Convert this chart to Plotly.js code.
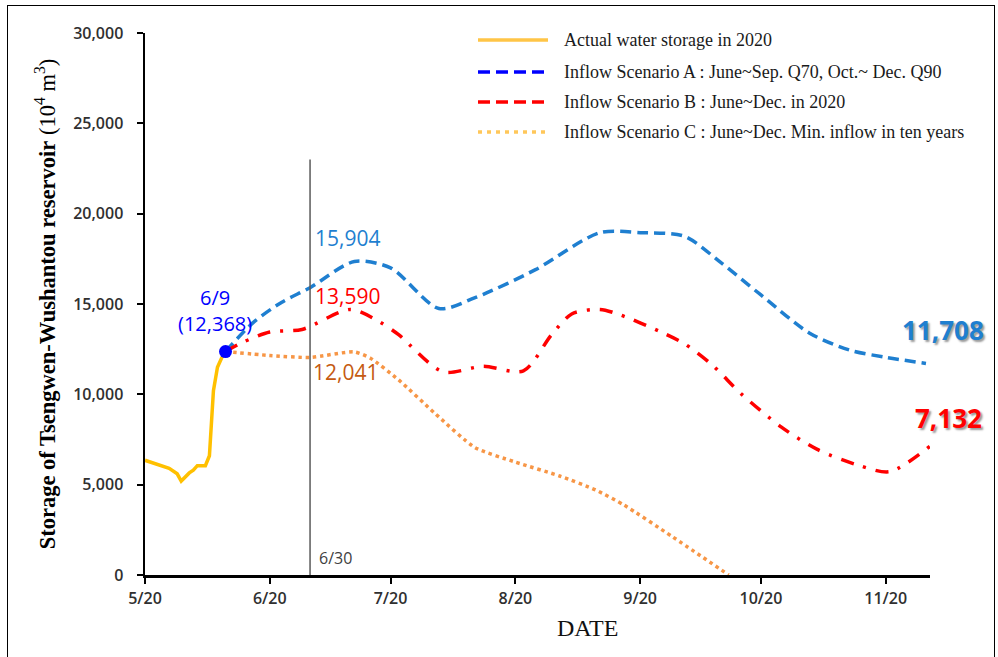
<!DOCTYPE html>
<html><head><meta charset="utf-8">
<script src="https://cdn.plot.ly/plotly-3.0.1.min.js"></script>
<style>
html,body{margin:0;padding:0;background:#fff;overflow:hidden}
#chart{width:998px;height:657px}
#frame{position:absolute;left:7px;top:5px;width:988px;height:720px;border:1.5px solid #000;pointer-events:none;box-sizing:border-box}
</style></head><body>
<div id="chart"></div><div id="frame"></div>
<script>
// Actual water storage in 2020 (10^4 m3)
const actualDates = ['2020-05-20','2020-05-23','2020-05-26','2020-05-28','2020-05-29','2020-05-31','2020-06-01','2020-06-02','2020-06-04','2020-06-05','2020-06-06','2020-06-07','2020-06-08','2020-06-09'];
const actualValues = [6350,6100,5900,5600,5200,5650,5800,6050,6050,6600,10200,11500,12000,12368];

// Scenario A
const scenADates = ['2020-06-09','2020-06-16','2020-06-23','2020-06-30','2020-07-11','2020-07-20','2020-08-01','2020-08-10','2020-08-25','2020-09-10','2020-09-20','2020-10-01','2020-10-10','2020-10-20','2020-11-01','2020-11-11','2020-11-20','2020-11-30'];
const scenAValues = [12368,14000,15100,15904,17350,17000,14750,15350,16900,18950,18950,18750,17300,15500,13400,12450,12050,11708];

// Scenario B
const scenBDates = ['2020-06-09','2020-06-13','2020-06-20','2020-06-28','2020-07-10','2020-07-17','2020-07-22','2020-08-02','2020-08-12','2020-08-22','2020-08-29','2020-09-03','2020-09-10','2020-09-15','2020-09-25','2020-10-01','2020-10-08','2020-10-15','2020-10-25','2020-11-03','2020-11-13','2020-11-21','2020-12-01'];
const scenBValues = [12368,12850,13450,13590,14700,14050,13300,11250,11550,11300,13300,14450,14700,14400,13470,12800,11600,10050,8200,6950,6090,5720,7132];

// Scenario C
const scenCDates = ['2020-06-09','2020-06-20','2020-06-30','2020-07-11','2020-07-15','2020-07-22','2020-07-31','2020-08-10','2020-08-20','2020-08-31','2020-09-09','2020-09-16','2020-09-28','2020-10-12'];
const scenCValues = [12368,12150,12041,12350,12000,10800,8950,7050,6250,5480,4700,3870,2120,0];

// Key point and reference date
const keyDate = ['2020-06-09'];
const keyValue = [12368];
const refDate = '2020-06-30';
const refTop = 23000;

const seriesNames = ['Actual water storage in 2020','Inflow Scenario A : June~Sep. Q70, Oct.~ Dec. Q90','Inflow Scenario B : June~Dec. in 2020','Inflow Scenario C : June~Dec. Min. inflow in ten years'];
const yTickVals = [0,5000,10000,15000,20000,25000,30000];

const blueC = '#1f7fd0';
const tickFont = {family:'Open Sans, sans-serif', size:16, color:'#303030', weight:600};

const traces = [
  {x:actualDates, y:actualValues, name:seriesNames[0], mode:'lines', line:{color:'#ffc000', width:3.5}, showlegend:false},
  {x:scenADates, y:scenAValues, name:seriesNames[1], mode:'lines', line:{color:blueC, width:3.5, dash:'11px,6px', shape:'spline', smoothing:0.8}, showlegend:false},
  {x:scenBDates, y:scenBValues, name:seriesNames[2], mode:'lines', line:{color:'#ff0000', width:3.5, dash:'13px,10px,3px,10px', shape:'spline', smoothing:0.8}, showlegend:false},
  {x:scenCDates, y:scenCValues, name:seriesNames[3], mode:'lines', line:{color:'#f79646', width:3.5, dash:'3.5px,3.8px', shape:'spline', smoothing:0.6}, showlegend:false},
  {x:keyDate, y:keyValue, name:'6/9', mode:'markers', marker:{color:'#0000ff', size:13}, showlegend:false}
];

function px2x(px){return (px-145)/785;}
function px2y(py){return (575-py)/542;}

const legX0 = px2x(478), legX1 = px2x(548);
const legRows = [40,72,102,132];
const legStyles = [
  {color:'#ffc547', width:3.5, dash:'solid'},
  {color:'#0000ff', width:3.5, dash:'12px,6px'},
  {color:'#ff0000', width:3.5, dash:'12px,6px'},
  {color:'#ffc75a', width:3.5, dash:'4px,5px'}
];

const shapes = [
  {type:'line', xref:'x', yref:'y', x0:refDate, x1:refDate, y0:0, y1:refTop, line:{color:'#5a5a5a', width:1.5}}
];
legRows.forEach((r,i)=>{
  shapes.push({type:'line', xref:'paper', yref:'paper', x0:legX0, x1:legX1, y0:px2y(r), y1:px2y(r), line:legStyles[i]});
});

const labFont = (c,s)=>({family:'Open Sans, sans-serif', size:s||21, color:c});
const ann = (px,py,text,font,xa)=>({xref:'paper', yref:'paper', x:px2x(px), y:px2y(py), xanchor:xa||'center', yanchor:'middle', showarrow:false, text:text, font:font});
const annotations = [];
legRows.forEach((r,i)=>{
  annotations.push(ann(562, r, seriesNames[i], {family:'Liberation Serif, Times New Roman, serif', size:18, color:'#1a1a1a'}, 'left'));
});
annotations.push(
  ann(215, 311, '6/9<br>(12,368)', labFont('#0000ff', 20)),
  ann(347, 238, '15,904', labFont(blueC)),
  ann(347, 296, '13,590', labFont('#ff0000')),
  ann(345, 372, '12,041', labFont('#c55a11')),
  ann(335, 558, '6/30', {family:'Open Sans, sans-serif', size:16, color:'#404040'}),
  ann(943, 330, '11,708', {family:'Open Sans, sans-serif', size:26, color:blueC, weight:700, shadow:'2px 2px 2px rgba(0,0,0,0.4)'}),
  ann(948, 418, '7,132', {family:'Open Sans, sans-serif', size:26, color:'#ff0000', weight:700, shadow:'2px 2px 2px rgba(0,0,0,0.4)'}),
  ann(587, 628, 'DATE', {family:'Liberation Serif, Times New Roman, serif', size:24, color:'#111'})
);

const layout = {
  width:998, height:657,
  margin:{l:145, r:68, t:33, b:82},
  paper_bgcolor:'#fff', plot_bgcolor:'#fff',
  showlegend:false,
  xaxis:{
    type:'date', range:['2020-05-20','2020-12-01'],
    tick0:'2020-05-20', dtick:'M1', tickformat:'%-m/%d',
    showgrid:false, zeroline:false,
    showline:true, linecolor:'#000', linewidth:2.5,
    ticks:'outside', ticklen:6, tickwidth:2, tickcolor:'#000',
    ticklabelstandoff:1, tickfont:tickFont
  },
  yaxis:{
    range:[0,30000], tickvals:yTickVals, tickformat:',d',
    showgrid:false, zeroline:false,
    showline:true, linecolor:'#000', linewidth:2.5,
    ticks:'outside', ticklen:6, tickwidth:2, tickcolor:'#000',
    ticklabelstandoff:10, tickfont:tickFont,
    title:{text:'<b>Storage of Tsengwen-Wushantou reservoir</b> (10<sup>4</sup> m<sup>3</sup>)', standoff:12, font:{family:'Liberation Serif, Times New Roman, serif', size:22.5, color:'#000'}}
  },
  shapes:shapes,
  annotations:annotations
};

Plotly.newPlot('chart', traces, layout, {displayModeBar:false, staticPlot:true});
</script>
</body></html>
